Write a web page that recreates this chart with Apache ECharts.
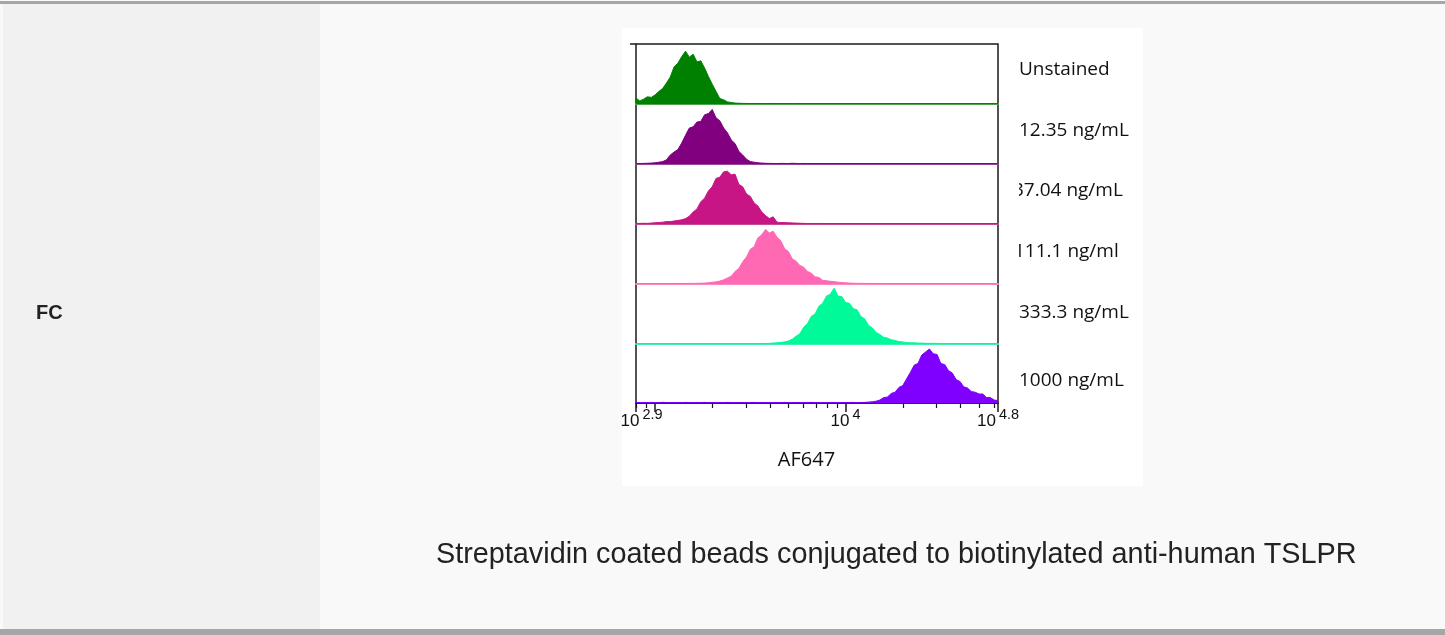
<!DOCTYPE html>
<html><head><meta charset="utf-8">
<script src="https://cdn.jsdelivr.net/npm/echarts@6/dist/echarts.min.js"></script>
<style>html,body{margin:0;padding:0;background:#f9f9f9}#c{width:1445px;height:635px}#err{position:absolute;left:10px;top:10px;font:12px monospace;color:#c00;white-space:pre-wrap;width:1400px}</style>
</head><body><div id="c"></div><div id="err"></div>
<script>
// ---------- data ----------
const binLog = [
2.90,2.92,2.94,2.96,2.98,3.00,3.02,3.04,3.06,3.08,
3.10,3.12,3.14,3.16,3.18,3.20,3.22,3.24,3.26,3.28,
3.30,3.32,3.34,3.36,3.38,3.40,3.42,3.44,3.46,3.48,
3.50,3.52,3.54,3.56,3.58,3.60,3.62,3.64,3.66,3.68,
3.70,3.72,3.74,3.76,3.78,3.80,3.82,3.84,3.86,3.88,
3.90,3.92,3.94,3.96,3.98,4.00,4.02,4.04,4.06,4.08,
4.10,4.12,4.14,4.16,4.18,4.20,4.22,4.24,4.26,4.28,
4.30,4.32,4.34,4.36,4.38,4.40,4.42,4.44,4.46,4.48,
4.50,4.52,4.54,4.56,4.58,4.60,4.62,4.64,4.66,4.68,
4.70,4.72,4.74,4.76,4.78,4.80];

const unstained = [
10,5,8,12,11,15,21,26,35,45,
62,68,79,88,78,83,70,72,60,46,
33,21,9,7,3.5,2.5,1.5,1.2,1,0.9,
0.8,0.9,0.7,0.8,0.7,0.9,0.8,0.7,0.8,0.7,
0.8,0.7,0.8,0.9,0.7,0.8,0.7,0.8,0.7,0.8,
0.7,0.8,0.7,0.8,0.7,0.8,0.7,0.8,0.7,0.8,
0.7,0.8,0.7,0.8,0.7,0.8,0.7,0.8,0.7,0.8,
0.7,0.8,0.7,0.8,0.7,0.8,0.7,0.8,0.7,0.8,
0.7,0.8,0.7,0.8,0.7,0.8,0.7,0.8,0.7,0.8,
0.7,0.8,0.7,0.8,0.7,0.8];

const ng12_35 = [
0.5,0.8,1,1.2,1.5,2,3,4,7,15,
20,24,35,48,60,62,70,71,82,84,
91,77,72,60,52,40,34,21,15,8,
4,3,2,1.5,1.2,1,0.9,0.8,1,0.9,
0.8,1.2,0.9,0.8,0.9,0.8,0.7,0.8,0.7,0.8,
0.7,0.8,0.7,0.8,0.7,0.8,0.7,0.8,0.7,0.8,
0.7,0.8,0.7,0.8,0.7,0.8,0.7,0.8,0.7,0.8,
0.7,0.8,0.7,0.8,0.7,0.8,0.7,0.8,0.7,0.8,
0.7,0.8,0.7,0.8,0.7,0.8,0.7,0.8,0.7,0.8,
0.7,0.8,0.7,0.8,0.7,0.8];

const ng37_04 = [
0.8,1,1.2,1,1.5,2,2.5,3,4,4,
5,6,7,9,13,20,25,37,43,55,
62,76,78,87,88,82,83,66,62,50,
46,35,30,20,14,9,12,3,2.5,2.5,
2,1.8,1.5,1.2,1,0.9,0.8,0.9,0.8,0.9,
0.8,0.7,0.8,0.7,0.8,0.7,0.8,0.7,0.8,0.7,
0.8,0.7,0.8,0.7,0.8,0.7,0.8,0.7,0.8,0.7,
0.8,0.7,0.8,0.7,0.8,0.7,0.8,0.7,0.8,0.7,
0.8,0.7,0.8,0.7,0.8,0.7,0.8,0.7,0.8,0.7,
0.8,0.7,0.8,0.7,0.8,0.7];

const ng111_1 = [
0.7,0.8,0.7,0.9,0.8,0.7,0.8,0.9,0.8,0.7,
0.8,1,0.8,0.9,1,1,1.2,1.2,1.5,2,
3,3.5,5,7,10,13,21,26,37,45,
58,62,77,82,91,85,88,78,72,59,
54,42,38,31,28,21,18,12,11,6,
5.5,4.5,4,3,2.5,2,1.5,1.3,1,1.1,
0.9,1,0.8,0.9,0.8,0.9,0.8,0.7,0.8,0.7,
0.8,0.7,0.8,0.7,0.8,0.7,0.8,0.7,0.8,0.7,
0.8,0.7,0.8,0.7,0.8,0.7,0.8,0.7,0.8,0.7,
0.8,0.7,0.8,0.7,0.8,0.7];

const ng333_3 = [
0.8,0.9,0.8,0.9,0.8,0.9,0.8,0.9,0.8,0.9,
0.8,0.9,0.8,0.9,0.8,0.9,0.8,0.9,0.8,0.9,
0.8,0.9,0.8,0.9,0.8,0.9,0.8,0.9,0.8,0.9,
0.8,0.9,0.8,0.9,0.9,1,1.5,2,2.5,3.5,
5,8,13,17,28,34,46,50,63,68,
80,83,93,80,79,69,68,59,57,46,
42,31,27,19,16,11,10,7,6,4,
3.5,2.5,2,2,1.5,1.5,1.2,1,1.1,0.9,
1,0.9,0.8,0.9,0.8,0.9,0.8,0.9,0.8,0.9,
0.8,0.9,0.8,0.9,0.8,0.9];

const ng1000 = [
0.8,0.6,0.9,0.7,1,0.8,0.7,1.1,0.8,0.7,
0.9,0.8,0.7,1,0.8,0.7,0.9,0.8,1,0.7,
0.8,0.9,0.7,0.8,1,0.8,0.7,0.9,0.8,0.7,
0.8,1,0.7,0.8,0.9,0.7,0.8,0.9,0.7,1,
0.8,0.7,0.9,0.8,0.7,0.8,1,0.8,0.7,0.9,
0.8,0.7,0.9,0.8,0.7,0.8,0.9,1,0.8,0.9,
1,1.5,2,3,5,9,10,16,18,26,
29,40,51,63,66,80,85,90,82,81,
66,64,54,50,39,36,27,25,19,18,
15,15,9,9,5,4];

const seriesValues = [unstained, ng12_35, ng37_04, ng111_1, ng333_3, ng1000];
const sampleLabels = ['Unstained', '12.35 ng/mL', '37.04 ng/mL', '111.1 ng/ml', '333.3 ng/mL', '1000 ng/mL'];
const fillColors = ['#008000', '#800080', '#c71585', '#ff69b4', '#00fa9a', '#7f00ff'];
const baselineColors = ['#4aa84a', '#9c469c', '#c94a98', '#ff86c2', '#3ff0b2', '#4b2a8c'];
const majorTickLogs = [2.9, 3, 4, 4.8];
const labelTickLogs = [2.9, 4, 4.8];
const minorTickIntensities = [800, 900, 2000, 3000, 4000, 5000, 6000, 7000, 8000, 9000, 20000, 30000, 40000, 50000, 60000];
const xMinLog = 2.9, xMaxLog = 4.8;
const xAxisTitle = 'AF647';
const rowLabel = 'FC';
const caption = 'Streptavidin coated beads conjugated to biotinylated anti-human TSLPR';

try {
// ---------- layout ----------
const PL = 636, PW = 362, PT = 44;
const rowTops = [44, 104, 164, 224, 284, 343];
const rowH = 60;
const labelY = [70, 131, 191, 252, 313, 381];
const labelX = [1019, 1019, 1013, 1014, 1019, 1019];

const chart = echarts.init(document.getElementById('c'));
const grids = [{ left: PL, top: PT, width: PW, height: 403 - PT, show: true, borderColor: '#1a1a1a', borderWidth: 1.5 }];
const xAxes = [
  { gridIndex: 0, type: 'value', min: xMinLog, max: xMaxLog, position: 'bottom',
    axisLine: { show: true, onZero: false, lineStyle: { color: '#1a1a1a', width: 1.5 } },
    axisTick: { show: true, customValues: majorTickLogs, length: 9, lineStyle: { color: '#1a1a1a', width: 1.5 } },
    axisLabel: { show: true, customValues: labelTickLogs, margin: 4, color: '#111', fontSize: 17,
      formatter: v => (v === xMinLog ? '{p|}' : '') + '{b|10}{s|' + String(v) + '}',
      rich: { p: { width: 11, lineHeight: 23 },
              b: { fontSize: 17, fontFamily: 'Liberation Sans', color: '#111', verticalAlign: 'bottom', lineHeight: 23 },
              s: { fontSize: 14.5, fontFamily: 'Liberation Sans', color: '#111', verticalAlign: 'top', lineHeight: 23, padding: [0, 0, 0, 3] } } },
    splitLine: { show: false },
    name: xAxisTitle, nameLocation: 'middle', nameGap: 47,
    nameTextStyle: { fontFamily: 'Open Sans', fontSize: 20, color: '#111', padding: [0, 21, 0, 0] } },
  { gridIndex: 0, type: 'value', min: xMinLog, max: xMaxLog, position: 'bottom', offset: 0,
    axisLine: { show: false, onZero: false },
    axisTick: { show: true, customValues: minorTickIntensities.map(v => Math.log10(v)), length: 5, lineStyle: { color: '#1a1a1a', width: 1.2 } },
    axisLabel: { show: false }, splitLine: { show: false } }
];
const yAxes = [
  { gridIndex: 0, type: 'value', min: 0, max: 1, show: false }
];
const series = [];
seriesValues.forEach((vals, k) => {
  grids.push({ left: PL, top: rowTops[k], width: PW, height: rowH });
  xAxes.push({ gridIndex: k + 1, type: 'value', min: xMinLog, max: xMaxLog, position: 'bottom',
    axisLine: { show: k < 5, onZero: false, lineStyle: { color: baselineColors[k], width: 2 } },
    axisTick: { show: false }, axisLabel: { show: false }, splitLine: { show: false } });
  yAxes.push({ gridIndex: k + 1, type: 'value', min: 0, max: 100, show: false });
  series.push({
    name: sampleLabels[k], type: 'line', xAxisIndex: xAxes.length - 1, yAxisIndex: yAxes.length - 1,
    data: binLog.map((x, i) => [x, vals[i]]),
    symbol: 'none', showSymbol: false, z: 3,
    lineStyle: { color: fillColors[k], width: 1 },
    areaStyle: { color: fillColors[k], opacity: 1 }
  });
});

const graphics = [
  { type: 'rect', z: -30, shape: { x: 0, y: 0, width: 1445, height: 635 }, style: { fill: '#f9f9f9' } },
  { type: 'rect', z: -29, shape: { x: 3, y: 4, width: 317, height: 625 }, style: { fill: '#f1f1f1' } },
  { type: 'rect', z: -28, shape: { x: 0, y: 1, width: 1445, height: 3 }, style: { fill: '#a6a6a6' } },
  { type: 'rect', z: -28, shape: { x: 0, y: 629, width: 1445, height: 6 }, style: { fill: '#a6a6a6' } },
  { type: 'rect', z: -27, shape: { x: 622, y: 28, width: 521, height: 458 }, style: { fill: '#ffffff' } },
  { type: 'rect', z: -26, shape: { x: 630, y: 43.25, width: 6, height: 1.5 }, style: { fill: '#1a1a1a' } },
  { type: 'text', z: 10, x: 36, y: 313, style: { text: rowLabel, font: 'bold 20px "Liberation Sans"', fill: '#222', verticalAlign: 'middle' } },
  { type: 'text', z: 10, x: 436, y: 555, style: { text: caption, font: '28.8px "Liberation Sans"', fill: '#222', verticalAlign: 'middle' } }
];
sampleLabels.forEach((t, k) => {
  graphics.push({ type: 'text', z: 10, x: labelX[k], y: labelY[k], style: { text: t, font: '19px "Open Sans"', fill: '#111', verticalAlign: 'middle' } });
});
graphics.push({ type: 'rect', z: 11, shape: { x: 1002, y: 175, width: 17, height: 95 }, style: { fill: '#ffffff' } });

chart.setOption({
  animation: false,
  backgroundColor: '#f9f9f9',
  grid: grids, xAxis: xAxes, yAxis: yAxes, series: series,
  graphic: { elements: graphics }
});
} catch (e) { document.getElementById('err').textContent = String(e && e.stack || e); }
</script></body></html>
